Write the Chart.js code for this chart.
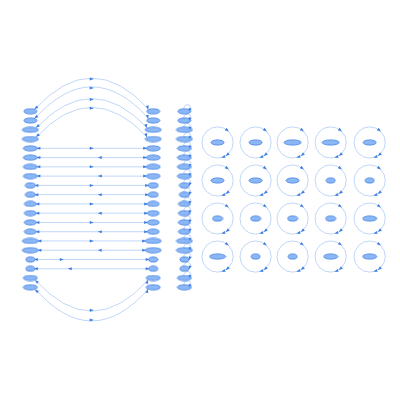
<!DOCTYPE html>
<html>
<head>
<script src="https://cdn.jsdelivr.net/npm/chart.js"></script>
<style>html,body{margin:0;padding:0;background:#fff}#wrap{width:400px;height:400px}</style>
</head>
<body>
<div id="wrap"><canvas id="c"></canvas></div>
<script>
// Node layout (pixel-like units on a 0..400 scale)
const rowY = [109, 118.5, 128, 137.5, 147, 156.5, 166, 175.5, 185, 194.5, 204, 213.5, 223, 232.5, 242, 251.5, 261, 270.5, 280, 289.5];
const columnX = [26, 152, 184];
const nodeWidths = [13, 13, 16, 16, 14, 14, 14, 14, 10, 10, 12, 12, 12, 12, 16, 16, 9, 9, 14, 14];
const arcPeaks = {0: 76, 1: 85, 2: 97, 3: 106, 18: 313, 19: 323};
const gridX = [218, 257, 295, 334, 374];
const gridY = [141, 180, 219, 258];
const gridWidths = [
  [13, 13, 17, 17, 13],
  [13, 13, 13, 9, 9],
  [10, 10, 10, 10, 14],
  [16, 9, 9, 14, 14]
];
const loopRadius = 16;

const FILL = 'rgba(120,170,245,0.85)';
const STROKE = '#3b7de0';
const EDGE = 'rgba(110,160,240,0.55)';

function ellipse(w) {
  const c = document.createElement('canvas');
  c.width = w + 2; c.height = 7;
  const x = c.getContext('2d');
  x.beginPath();
  x.ellipse(c.width / 2, 3.5, w / 2, 2.6, 0, 0, Math.PI * 2);
  x.fillStyle = FILL; x.fill();
  x.lineWidth = 0.8; x.strokeStyle = STROKE; x.stroke();
  return c;
}

const nodes = [], styles = [];
columnX.forEach(cx => rowY.forEach((y, i) => {
  nodes.push({x: cx, y: y}); styles.push(ellipse(nodeWidths[i]));
}));
gridY.forEach((y, r) => gridX.forEach((x, c) => {
  nodes.push({x: x, y: y}); styles.push(ellipse(gridWidths[r][c]));
}));

function arrow(ctx, x, y, ang) {
  ctx.save();
  ctx.translate(x, y); ctx.rotate(ang);
  ctx.beginPath(); ctx.moveTo(2, 0); ctx.lineTo(-2, -1.5); ctx.lineTo(-2, 1.5); ctx.closePath();
  ctx.fillStyle = STROKE; ctx.fill();
  ctx.restore();
}

const edgePlugin = {
  id: 'edges',
  beforeDatasetsDraw(chart) {
    const {ctx, scales: {x: sx, y: sy}} = chart;
    ctx.save();
    ctx.strokeStyle = EDGE; ctx.lineWidth = 0.8;
    rowY.forEach((y, i) => {
      const x0 = sx.getPixelForValue(columnX[0]), x1 = sx.getPixelForValue(columnX[1]);
      const py = sy.getPixelForValue(y);
      const hw = nodeWidths[i] / 2;
      if (arcPeaks[i] !== undefined) {
        const peak = sy.getPixelForValue(arcPeaks[i]);
        const cyp = 2 * peak - py;
        const up = peak < py ? -1 : 1;
        const a = x0 + hw - 2, b = x1 - hw + 2, ey = py + up * 2;
        ctx.beginPath(); ctx.moveTo(a, ey);
        ctx.quadraticCurveTo((a + b) / 2, cyp, b, ey); ctx.stroke();
        arrow(ctx, (a + b) / 2, peak, 0);
        arrow(ctx, b - 1, ey + up * 1.5, Math.atan2(-up * 1, 1) + (up < 0 ? 0.6 : -0.6));
        arrow(ctx, a + 1, ey + up * 1.5, Math.PI + (up < 0 ? -0.6 : 0.6));
      } else {
        ctx.beginPath(); ctx.moveTo(x0 + hw, py); ctx.lineTo(x1 - hw, py); ctx.stroke();
        arrow(ctx, (x0 + x1) / 2 + (i % 2 ? 8 : 0) - (i >= 16 ? 30 : 0), py, i % 2 ? Math.PI : 0);
        arrow(ctx, x1 - hw - 1, py, 0);
        arrow(ctx, x0 + hw + 1, py, Math.PI);
      }
      // self loops in third column
      const lx = sx.getPixelForValue(columnX[2]);
      ctx.beginPath(); ctx.arc(lx + 3, py - 3, 3.5, Math.PI * 0.8, Math.PI * 2.4); ctx.stroke();
      arrow(ctx, lx + 5, py - 1, 2);
    });
    // big self loops in the grid
    gridY.forEach(y => gridX.forEach(x => {
      const px = sx.getPixelForValue(x), py = sy.getPixelForValue(y);
      const r = sx.getPixelForValue(x + loopRadius) - px;
      ctx.beginPath(); ctx.arc(px, py, r, 0, Math.PI * 2); ctx.stroke();
      [-0.9, 0.9, 1.2].forEach(t => arrow(ctx, px + r * Math.cos(t), py + r * Math.sin(t), t + Math.PI / 2));
    }));
    ctx.restore();
  }
};

new Chart(document.getElementById('c'), {
  type: 'scatter',
  data: {datasets: [{data: nodes, pointStyle: styles, pointRadius: 4}]},
  options: {
    responsive: true, maintainAspectRatio: false, animation: false,
    layout: {padding: 0},
    plugins: {legend: {display: false}, tooltip: {enabled: false}},
    scales: {
      x: {type: 'linear', min: 0, max: 400, display: false},
      y: {type: 'linear', min: 0, max: 400, reverse: true, display: false}
    }
  },
  plugins: [edgePlugin]
});
</script>
</body>
</html>
